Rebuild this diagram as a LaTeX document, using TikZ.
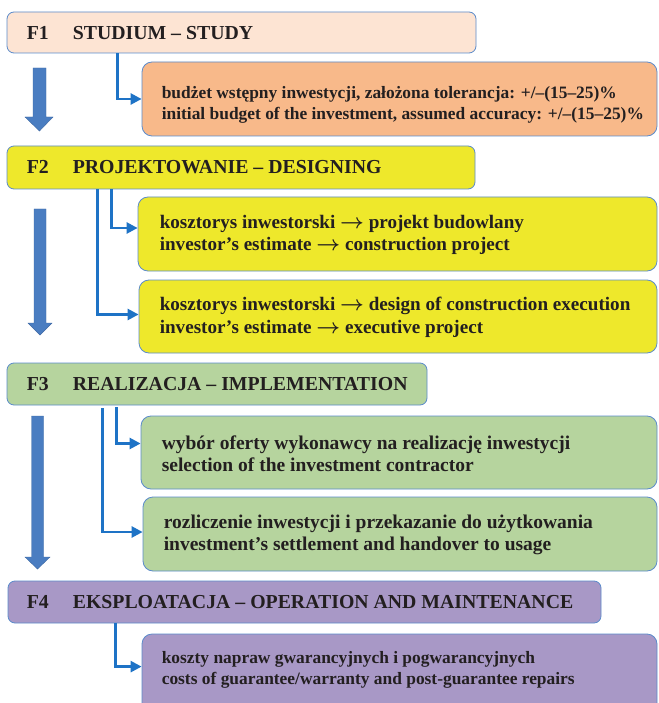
\documentclass[tikz,border=0pt]{standalone}
\usepackage{bm}
\usepackage{fontspec}
\setmainfont{Liberation Serif}
\usetikzlibrary{arrows.meta,fit}

\definecolor{phaseA}{HTML}{FDE4D3}
\definecolor{phaseAsub}{HTML}{F8B98A}
\definecolor{phaseB}{HTML}{EEE82B}
\definecolor{phaseC}{HTML}{B6D49E}
\definecolor{phaseD}{HTML}{A898C6}
\definecolor{edgeblue}{HTML}{5B8BCB}
\definecolor{linkblue}{HTML}{1E73C6}
\definecolor{flowblue}{HTML}{4A7DC1}
\definecolor{ink}{HTML}{231F20}

\tikzset{
  box/.style={draw=edgeblue, line width=0.8pt, rounded corners=7pt, inner sep=0pt},
  subbox/.style={box, rounded corners=10pt},
  ttl/.style={inner sep=0pt, anchor=west, text=ink, font=\bfseries\fontsize{19.8}{23}\selectfont},
  subtxt/.style={inner sep=0pt, anchor=west, align=left, text=ink, font=\bfseries\fontsize{19.5}{22.5}\selectfont},
  arrowtxt/.style={subtxt, font=\bfseries\fontsize{19.1}{22.5}\selectfont},
  smalltxt/.style={subtxt, font=\bfseries\fontsize{17.4}{21}\selectfont},
  conn/.style={draw=linkblue, line width=2.5pt, -{Triangle[length=11pt,width=11pt]}},
  flow/.style={fill=flowblue, draw=flowblue!85!black, line width=0.4pt}
}

\newcommand{\phaselabel}[2]{\makebox[46pt][l]{#1}#2}
\newcommand{\thento}{$\bm{\rightarrow}$}

\begin{document}
\begin{tikzpicture}[x=1pt,y=-1pt]
\clip (0,0) rectangle (658,703);
\fill[white] (0,0) rectangle (658,703);

% phase F1
\node[box, fill=phaseA, fit={(7,12) (476,53)}] (f1) {};
\node[ttl] (f1t) at ([xshift=20pt,yshift=-1pt]f1.west) {\phaselabel{F1}{STUDIUM – STUDY}};
\node[subbox, fill=phaseAsub, fit={(142,62) (657,136)}] (s1) {};
\node[smalltxt] (s1t) at ([xshift=20pt,yshift=-6pt]s1.west)
  {budżet wstępny inwestycji, założona tolerancja: +/–(15–25)\%\\
   initial budget of the investment, assumed accuracy: +/–(15–25)\%};
\draw[conn] ([xshift=111pt]f1.south west) |- (s1.west);

% phase F2
\node[box, fill=phaseB, fit={(7,146) (475,189)}] (f2) {};
\node[ttl] (f2t) at ([xshift=20pt]f2.west) {\phaselabel{F2}{PROJEKTOWANIE – DESIGNING}};
\node[subbox, fill=phaseB, fit={(138,197) (657,271)}] (s2a) {};
\node[arrowtxt] (s2at) at ([xshift=22pt,yshift=-1pt]s2a.west)
  {kosztorys inwestorski \thento{} projekt budowlany\\
   investor’s estimate \thento{} construction project};
\node[subbox, fill=phaseB, fit={(139,280) (657,353)}] (s2b) {};
\node[arrowtxt] (s2bt) at ([xshift=21pt,yshift=-1pt]s2b.west)
  {kosztorys inwestorski \thento{} design of construction execution\\
   investor’s estimate \thento{} executive project};
\draw[conn] ([xshift=105pt]f2.south west) |- ([yshift=6pt]s2a.west);
\draw[conn] ([xshift=91pt]f2.south west) |- ([yshift=2pt]s2b.west);

% phase F3
\node[box, fill=phaseC, fit={(7,363) (427,405)}] (f3) {};
\node[ttl] (f3t) at ([xshift=20pt]f3.west) {\phaselabel{F3}{REALIZACJA – IMPLEMENTATION}};
\node[subbox, fill=phaseC, fit={(141,416) (657,489)}] (s3a) {};
\node[subtxt] (s3at) at ([xshift=21pt,yshift=-1pt]s3a.west)
  {wybór oferty wykonawcy na realizację inwestycji\\
   selection of the investment contractor};
\node[subbox, fill=phaseC, fit={(143,497) (657,571)}] (s3b) {};
\node[subtxt] (s3bt) at ([xshift=21pt,yshift=-1pt]s3b.west)
  {rozliczenie inwestycji i przekazanie do użytkowania\\
   investment’s settlement and handover to usage};
\draw[conn] ([xshift=110pt,yshift=-2pt]f3.south west) |- ([yshift=9pt]s3a.west);
\draw[conn] ([xshift=96pt,yshift=-3pt]f3.south west) |- ([yshift=2pt]s3b.west);

% phase F4
\node[box, fill=phaseD, fit={(8,581) (601,623)}] (f4) {};
\node[ttl] (f4t) at ([xshift=19pt]f4.west) {\phaselabel{F4}{EKSPLOATACJA – OPERATION AND MAINTENANCE}};
\node[subbox, fill=phaseD, fit={(142,634) (657,720)}] (s4) {};
\node[smalltxt] (s4t) at ([xshift=20pt,yshift=-36pt]s4.north west)
  {koszty napraw gwarancyjnych i pogwarancyjnych\\
   costs of guarantee/warranty and post-guarantee repairs};
\draw[conn] ([xshift=108pt]f4.south west) |- ([yshift=-33pt]s4.north west);

% flow arrows between phases
\filldraw[flow] (33,68) -- (46,68) -- (46,117) -- (53,117) -- (39.5,131)
  -- (25,117) -- (33,117) -- cycle;
\filldraw[flow] (34,209) -- (46,209) -- (46,323) -- (52,323) -- (40,335)
  -- (28,323) -- (34,323) -- cycle;
\filldraw[flow] (31.5,416) -- (43.5,416) -- (43.5,557) -- (50,557) -- (37.5,569)
  -- (25,557) -- (31.5,557) -- cycle;
\end{tikzpicture}
\end{document}
